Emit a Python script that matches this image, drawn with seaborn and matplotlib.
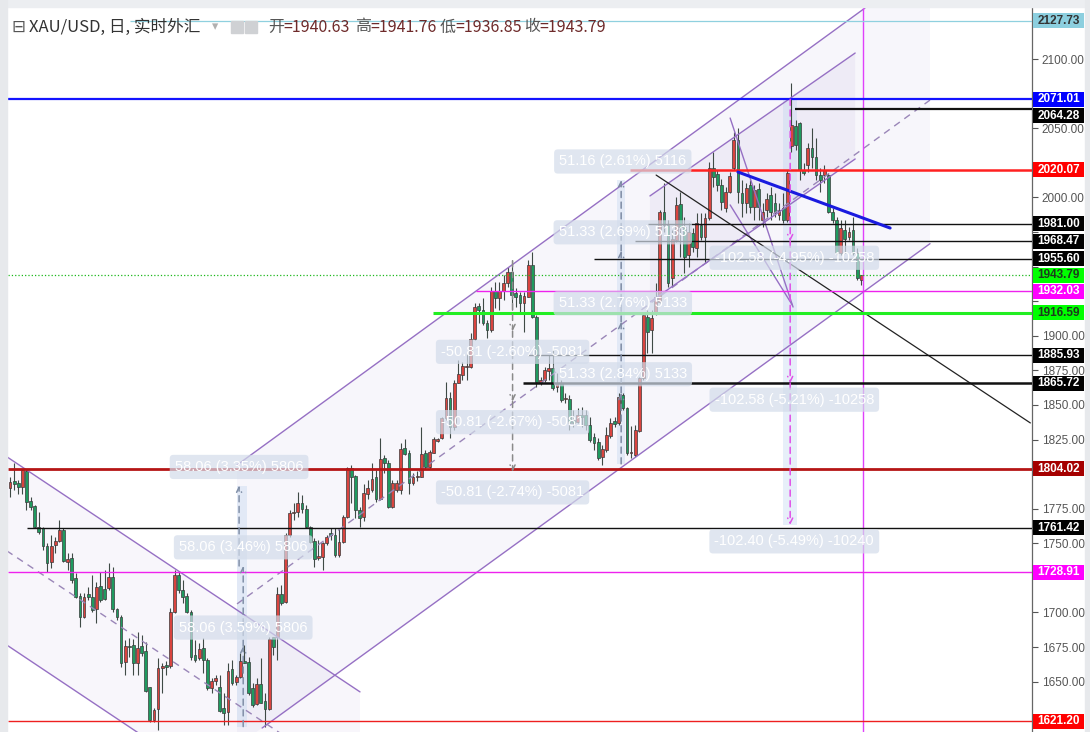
import numpy as np
import matplotlib
matplotlib.use("Agg")
import matplotlib.pyplot as plt
import matplotlib.transforms as mtransforms
from matplotlib.patches import Rectangle
import seaborn as sns

# ---------------------------------------------------------------
# XAU/USD daily candles
# ---------------------------------------------------------------
opens = [1789.8, 1795.0, 1793.4, 1791.0, 1802.5, 1780.6, 1777.0, 1761.6, 1760.8, 1748.0,
         1736.7, 1748.8, 1752.0, 1759.6, 1736.7, 1739.1, 1724.7, 1712.0, 1697.0, 1713.4,
         1711.4, 1702.3, 1719.1, 1716.7, 1717.5, 1725.9, 1702.3, 1697.0, 1664.4, 1676.0,
         1676.5, 1663.7, 1675.8, 1672.4, 1645.9, 1622.3, 1630.0, 1659.8, 1661.8, 1661.3,
         1700.0, 1727.0, 1716.3, 1712.0, 1700.6, 1669.2, 1666.8, 1674.0, 1666.0, 1645.2,
         1650.7, 1645.9, 1630.7, 1628.3, 1658.9, 1650.0, 1653.1, 1665.0, 1664.4, 1645.2,
         1633.8, 1648.1, 1636.2, 1630.0, 1682.0, 1682.5, 1713.4, 1707.8, 1756.0, 1771.7,
         1772.9, 1779.4, 1774.8, 1762.0, 1751.9, 1739.1, 1740.3, 1750.0, 1757.2, 1756.0,
         1741.5, 1751.2, 1768.8, 1804.1, 1798.6, 1774.0, 1769.0, 1786.0, 1788.5, 1798.1,
         1781.7, 1811.4, 1807.8, 1776.4, 1788.5, 1788.5, 1818.6, 1815.0, 1793.3, 1798.0,
         1798.1, 1815.5, 1805.4, 1815.5, 1824.1, 1825.8, 1840.3, 1854.8, 1834.3, 1866.1,
         1871.6, 1877.2, 1877.2, 1897.4, 1921.5, 1918.6, 1909.0, 1904.2, 1932.6, 1927.0,
         1932.6, 1937.9, 1946.3, 1930.7, 1929.5, 1923.5, 1928.3, 1951.2, 1913.8, 1866.1,
         1868.0, 1874.8, 1876.5, 1862.7, 1866.1, 1854.0, 1854.0, 1839.1, 1837.9, 1842.8,
         1842.8, 1835.5, 1826.6, 1823.5, 1812.6, 1817.4, 1827.5, 1838.4, 1836.7, 1857.2,
         1847.6, 1815.0, 1813.8, 1831.4, 1869.2, 1913.8, 1904.2, 1917.4, 1924.6, 1989.7,
         1980.1, 1941.5, 1969.2, 1995.3, 1978.9, 1958.4, 1974.0, 1963.2, 1980.1, 1971.7,
         1984.9, 2021.0, 2017.0, 2009.0, 1992.2, 2004.2, 2021.0, 2041.6, 2003.0, 1995.7,
         2009.0, 1993.3, 2005.9, 1983.7, 1990.9, 2001.8, 1996.2, 1987.3, 1992.1, 1983.7,
         2037.0, 2052.0, 2053.6, 2019.8, 2023.4, 2035.5, 2029.5, 2016.2, 2016.2, 2016.2,
         1989.7, 1983.7, 1959.6, 1976.5, 1971.6, 1976.5, 1959.6, 1940.63]
highs = [1797.7, 1808.0, 1796.0, 1804.0, 1804.0, 1783.7, 1777.7, 1772.9, 1761.6, 1750.5,
         1756.0, 1754.8, 1766.9, 1760.8, 1742.8, 1742.8, 1728.3, 1713.8, 1713.8, 1718.7,
         1727.0, 1722.3, 1729.5, 1730.7, 1735.5, 1733.1, 1703.0, 1698.2, 1680.1, 1681.3,
         1680.6, 1686.0, 1683.7, 1678.9, 1646.4, 1630.7, 1666.8, 1663.2, 1665.0, 1703.0,
         1730.7, 1729.5, 1723.5, 1713.8, 1701.8, 1680.1, 1677.7, 1681.3, 1666.8, 1652.4,
         1654.8, 1654.8, 1641.5, 1663.7, 1665.6, 1654.8, 1670.5, 1676.5, 1668.0, 1648.8,
         1652.4, 1666.8, 1641.5, 1682.5, 1682.5, 1718.7, 1719.9, 1757.2, 1774.1, 1778.9,
         1787.3, 1784.9, 1777.7, 1762.5, 1753.6, 1752.4, 1751.2, 1756.0, 1760.8, 1760.8,
         1760.8, 1770.5, 1805.4, 1806.6, 1799.1, 1776.0, 1793.0, 1796.0, 1807.8, 1803.0,
         1825.8, 1813.8, 1810.2, 1795.7, 1795.7, 1822.7, 1825.1, 1817.4, 1800.5, 1802.0,
         1834.3, 1817.4, 1817.4, 1827.0, 1825.8, 1841.5, 1866.8, 1859.6, 1868.0, 1882.5,
         1881.3, 1887.3, 1901.8, 1923.4, 1923.4, 1927.0, 1911.4, 1935.5, 1939.1, 1939.1,
         1944.0, 1950.0, 1954.8, 1934.3, 1931.9, 1931.9, 1954.8, 1960.8, 1915.0, 1870.4,
         1877.7, 1886.1, 1890.9, 1872.8, 1868.0, 1858.4, 1857.2, 1846.4, 1847.6, 1848.8,
         1846.4, 1841.5, 1829.5, 1825.9, 1821.0, 1834.3, 1840.3, 1841.5, 1858.4, 1858.4,
         1848.8, 1835.0, 1835.5, 1870.4, 1916.2, 1918.6, 1918.6, 1937.9, 1990.9, 2010.2,
         1983.7, 1976.5, 2000.6, 2004.2, 1986.1, 1981.3, 1977.7, 1988.5, 1988.5, 1988.5,
         2025.9, 2033.0, 2020.0, 2013.0, 2007.8, 2018.7, 2047.6, 2050.0, 2012.6, 2010.2,
         2012.6, 2009.0, 2010.2, 1995.7, 2003.0, 2007.8, 2003.0, 1995.7, 2003.0, 2019.8,
         2082.5, 2056.0, 2054.8, 2024.6, 2039.1, 2049.9, 2042.7, 2021.0, 2023.4, 2017.4,
         1992.1, 1986.1, 1983.7, 1983.7, 1978.9, 1986.1, 1963.2, 1943.79]
lows = [1783.7, 1788.6, 1786.0, 1786.0, 1774.0, 1774.0, 1760.8, 1757.0, 1745.2, 1729.5,
        1732.0, 1742.8, 1751.0, 1736.7, 1730.7, 1721.1, 1710.2, 1689.7, 1695.8, 1709.0,
        1700.6, 1692.2, 1707.8, 1709.0, 1716.3, 1700.6, 1694.6, 1660.8, 1654.8, 1668.0,
        1654.8, 1654.8, 1668.5, 1642.8, 1620.5, 1621.0, 1615.0, 1641.5, 1655.0, 1659.6,
        1699.4, 1713.8, 1706.6, 1699.4, 1665.6, 1664.4, 1665.6, 1656.0, 1644.0, 1641.5,
        1647.6, 1628.3, 1618.6, 1618.6, 1647.6, 1647.6, 1652.4, 1663.2, 1640.3, 1632.0,
        1633.1, 1634.3, 1617.5, 1629.5, 1669.2, 1665.6, 1705.4, 1706.6, 1754.8, 1766.9,
        1769.3, 1771.7, 1760.8, 1750.0, 1733.1, 1738.0, 1730.7, 1748.8, 1752.4, 1740.3,
        1740.3, 1750.0, 1768.0, 1778.8, 1768.0, 1762.0, 1766.0, 1781.7, 1787.3, 1780.0,
        1781.3, 1800.5, 1775.2, 1775.2, 1787.3, 1786.0, 1814.0, 1786.0, 1792.0, 1795.0,
        1797.6, 1804.0, 1804.0, 1815.0, 1823.4, 1825.1, 1839.1, 1825.8, 1831.9, 1865.6,
        1868.0, 1868.0, 1876.4, 1897.0, 1909.0, 1907.8, 1898.1, 1903.0, 1919.8, 1918.6,
        1925.8, 1935.5, 1918.6, 1921.0, 1916.2, 1903.0, 1927.8, 1912.6, 1863.2, 1864.4,
        1866.8, 1868.0, 1860.8, 1859.6, 1852.4, 1851.2, 1831.9, 1834.3, 1836.7, 1834.3,
        1831.9, 1823.5, 1817.4, 1810.2, 1806.6, 1816.2, 1825.9, 1834.3, 1835.5, 1846.4,
        1813.8, 1812.0, 1812.6, 1830.7, 1868.0, 1887.3, 1887.3, 1915.0, 1923.4, 1975.0,
        1935.5, 1935.5, 1968.0, 1957.2, 1945.2, 1950.0, 1960.8, 1957.2, 1969.2, 1952.4,
        1983.7, 2007.8, 2005.0, 1991.0, 1989.7, 2003.0, 2019.8, 1995.8, 1986.1, 1988.5,
        1988.5, 1983.7, 1983.7, 1978.9, 1986.1, 1983.7, 1986.1, 1983.7, 1981.3, 1982.5,
        2033.0, 2034.0, 2012.6, 2016.2, 2018.6, 2021.0, 2012.6, 2004.2, 2010.2, 1988.5,
        1981.3, 1958.4, 1958.4, 1959.6, 1969.2, 1958.4, 1940.3, 1936.85]
closes = [1794.6, 1792.6, 1791.0, 1803.0, 1780.0, 1776.5, 1761.6, 1758.4, 1748.0, 1736.0,
          1748.0, 1751.8, 1759.6, 1737.5, 1738.7, 1723.5, 1711.0, 1696.5, 1711.4, 1711.0,
          1701.8, 1718.7, 1709.0, 1709.5, 1725.4, 1702.3, 1697.0, 1663.7, 1675.8, 1674.8,
          1663.7, 1674.0, 1671.0, 1643.5, 1622.3, 1629.5, 1659.6, 1661.0, 1660.3, 1700.6,
          1727.0, 1716.3, 1711.4, 1700.6, 1668.0, 1665.6, 1673.4, 1665.6, 1645.2, 1650.7,
          1652.6, 1629.0, 1627.6, 1658.0, 1648.8, 1653.1, 1664.9, 1663.7, 1642.0, 1633.1,
          1648.1, 1634.8, 1630.0, 1680.6, 1675.3, 1713.4, 1706.6, 1756.0, 1771.7, 1772.9,
          1779.4, 1774.6, 1762.0, 1751.2, 1738.4, 1740.8, 1750.0, 1754.8, 1756.0, 1741.5,
          1751.2, 1768.8, 1804.2, 1798.1, 1774.0, 1768.0, 1786.6, 1789.7, 1796.2, 1781.7,
          1810.7, 1807.8, 1776.4, 1793.3, 1793.8, 1817.9, 1814.5, 1793.3, 1798.1, 1799.0,
          1814.5, 1805.4, 1816.2, 1825.1, 1825.1, 1840.3, 1854.8, 1834.3, 1866.1, 1872.3,
          1878.1, 1878.1, 1897.4, 1921.0, 1918.6, 1909.0, 1904.2, 1932.6, 1927.0, 1932.6,
          1937.9, 1946.3, 1929.5, 1927.8, 1923.5, 1928.8, 1951.2, 1913.8, 1866.8, 1868.0,
          1875.3, 1876.5, 1862.0, 1866.1, 1853.6, 1855.0, 1836.7, 1837.2, 1842.8, 1841.5,
          1835.5, 1824.7, 1822.7, 1811.4, 1817.9, 1828.3, 1837.2, 1836.2, 1856.0, 1847.6,
          1815.0, 1816.0, 1831.9, 1869.2, 1915.0, 1903.0, 1912.6, 1928.3, 1989.7, 1980.1,
          1937.9, 1970.3, 1994.6, 1978.9, 1957.2, 1975.3, 1964.4, 1981.3, 1971.7, 1984.9,
          2021.0, 2015.0, 2009.0, 1997.0, 2004.2, 2015.5, 2041.6, 2004.2, 1995.7, 2006.6,
          1993.3, 2005.4, 1993.3, 1989.7, 1998.6, 1989.7, 1989.7, 1990.9, 1983.7, 2017.4,
          2052.4, 2038.0, 2019.8, 2017.4, 2035.5, 2029.5, 2016.2, 2012.6, 2019.8, 1989.7,
          1983.7, 1959.6, 1977.7, 1969.7, 1975.3, 1959.6, 1941.5, 1943.79]

# horizontal price levels drawn on the chart (price, start bar)
level_prices = [2127.73, 2071.01, 2064.28, 2020.07, 1981.00, 1968.47, 1955.60, 1943.79,
                1932.03, 1916.59, 1885.93, 1865.72, 1804.02, 1761.42, 1728.91, 1621.20]
level_starts = [29.2, -1, 190.9, 150.8, 155.2, 152.0, 142.0, -1,
                113.3, 102.9, 126.0, 124.8, -1, 4.1, -1, -1]
# axis tags that the screen pushed down to avoid overlapping
tag_shift = [0, 0, -5.2, 0, 0, 0, 0, 0, 0, 0, 0, 0, 0, 0, 0, 0]

# price range measurements: (bar, from price, to price, label)
ranges_a = [(56.7, 1617.5, 1675.6, "58.06 (3.59%) 5806"),
            (56.7, 1675.6, 1733.6, "58.06 (3.46%) 5806"),
            (55.7, 1733.6, 1791.7, "58.06 (3.35%) 5806")]
ranges_b = [(122.2, 1954.2, 1903.4, "-50.81 (-2.60%) -5081"),
            (122.2, 1903.4, 1852.6, "-50.81 (-2.67%) -5081"),
            (122.2, 1852.6, 1801.8, "-50.81 (-2.74%) -5081")]
ranges_c = [(148.6, 1807.4, 1858.7, "51.33 (2.84%) 5133"),
            (148.6, 1858.7, 1910.0, "51.33 (2.76%) 5133"),
            (148.6, 1910.0, 1961.3, "51.33 (2.69%) 5133"),
            (148.6, 1961.3, 2012.5, "51.16 (2.61%) 5116")]
ranges_d = [(189.7, 2071.0, 1968.4, "-102.58 (-4.95%) -10258"),
            (189.7, 1968.4, 1865.8, "-102.58 (-5.21%) -10258"),
            (189.7, 1865.8, 1763.4, "-102.40 (-5.49%) -10240")]

hdr_open, hdr_high, hdr_low, hdr_close = "1940.63", "1941.76", "1936.85", "1943.79"

# ---------------------------------------------------------------
# style
# ---------------------------------------------------------------
sns.set_theme(style="white")
plt.rcParams['font.family'] = ['Liberation Sans', 'Noto Sans CJK SC', 'DejaVu Sans']

UP = '#d9443f'
DOWN = '#1f9a5f'
PURPLE = '#9670c4'

fig = plt.figure(figsize=(10.9, 7.32), dpi=100)
ax = fig.add_axes([8 / 1090, 0, 1024 / 1090, 724 / 732])
ax.set_facecolor('white')
ax.set_xlim(-0.49, 248.5)
ax.set_ylim(1613.6, 2136.95)

# ---------------------------------------------------------------
# channels (fills + lines)
# ---------------------------------------------------------------
# big ascending channel
ax.fill([55.2, 223.7, 223.7, 55.2], [1806.6, 2171.3, 1966.6, 1603.5],
        color='#7b5cc0', alpha=0.055, lw=0, zorder=0.5)
ax.plot([55.2, 207.9], [1806.6, 2136.95], color=PURPLE, lw=1, zorder=3)
ax.plot([61.3, 223.7], [1616.5, 1966.6], color=PURPLE, lw=1, zorder=3)
ax.plot([55.2, 223.7], [1706.2, 2070.4], color='#9a86b8', lw=1, ls=(0, (5, 4)), zorder=3)

# inner ascending channel
ax.fill([155.6, 205.5, 205.5, 155.6], [2001.1, 2104.4, 2027.8, 1924.4],
        color='#7b5cc0', alpha=0.07, lw=0, zorder=0.6)
ax.plot([155.6, 205.5], [2001.1, 2104.4], color=PURPLE, lw=1, zorder=3)
ax.plot([155.6, 205.5], [1924.4, 2027.8], color=PURPLE, lw=1, zorder=3)

# descending channel (left)
ax.fill([-0.8, 85.1, 85.1, -0.8], [1812.6, 1642.6, 1505.9, 1676.5],
        color='#7b5cc0', alpha=0.05, lw=0, zorder=0.5)
ax.plot([-0.8, 85.1], [1812.6, 1642.6], color=PURPLE, lw=1, zorder=3)
ax.plot([-0.8, 85.1], [1676.5, 1505.9], color=PURPLE, lw=1, zorder=3)
ax.plot([-0.8, 85.1], [1744.6, 1574.3], color='#9a86b8', lw=1, ls=(0, (5, 4)), zorder=3)

# pennant lines
ax.plot([175.1, 190.4], [2057.4, 1920.8], color=PURPLE, lw=1, zorder=3)
ax.plot([175.1, 190.2], [1994.6, 1922.3], color=PURPLE, lw=1, zorder=3)

# ---------------------------------------------------------------
# measurement bands
# ---------------------------------------------------------------
band = dict(color='#bcd3ee', alpha=0.35, lw=0, zorder=0.8)
ax.fill_between([55.1, 57.6], 1617.5, 1791.7, **band)
ax.fill_between([147.6, 149.6], 1807.4, 2012.5, **band)
ax.fill_between([188.0, 191.4], 1763.4, 2071.0, **band)

# ---------------------------------------------------------------
# candles
# ---------------------------------------------------------------
o = np.array(opens)
h = np.array(highs)
l = np.array(lows)
c = np.array(closes)
x = np.arange(len(c))
up = c >= o
col = np.where(up, UP, DOWN)
ax.vlines(x, l, h, color='#3f4a45', lw=0.8, zorder=2)
body = np.maximum(np.abs(c - o), 0.7)
ax.bar(x, body, bottom=np.minimum(o, c), width=0.68, color=col,
       edgecolor='#3a3a3a', linewidth=0.5, zorder=2.1)

# ---------------------------------------------------------------
# trend lines
# ---------------------------------------------------------------
ax.plot([157.1, 248.1], [2016.2, 1837.0], color='#222222', lw=0.9, zorder=3)
ax.plot([177.0, 214.0], [2018.4, 1977.9], color='#1a1adf', lw=2.2, zorder=3.2)
ax.axvline(207.4, color='#e040fb', lw=1, zorder=3)

# horizontal levels
lvl_style = [('#8fd0df', 0.9, '-'), ('#1414ff', 1.6, '-'), ('#111111', 1.6, '-'),
             ('#ff2020', 1.8, '-'), ('#111111', 1.0, '-'), ('#111111', 1.0, '-'),
             ('#111111', 1.0, '-'), ('#1cb81c', 0.9, ':'), ('#ee22ee', 1.0, '-'),
             ('#22ee22', 2.2, '-'), ('#111111', 1.0, '-'), ('#111111', 1.8, '-'),
             ('#b51515', 2.0, '-'), ('#111111', 1.0, '-'), ('#ee22ee', 1.0, '-'),
             ('#ee2020', 1.0, '-')]
lbl_colors = [('#8ccfdf', '#333333'), ('#0000ff', 'white'), ('#000000', 'white'),
              ('#ff0000', 'white'), ('#000000', 'white'), ('#000000', 'white'),
              ('#000000', 'white'), ('#00ff00', '#1d3b1d'), ('#ff00ff', 'white'),
              ('#00ff00', '#1d3b1d'), ('#000000', 'white'), ('#000000', 'white'),
              ('#a50000', 'white'), ('#000000', 'white'), ('#ff00ff', 'white'),
              ('#ff0000', 'white')]
for p, s, (lc, lw, ls) in zip(level_prices, level_starts, lvl_style):
    ax.hlines(p, max(s, -0.49), 248.5, color=lc, lw=lw, ls=ls, zorder=3.1)

# measurement arrows and labels
def draw_ranges(ranges, color, off, dx_label=0.0):
    for bx, p0, p1, txt in ranges:
        ax.annotate('', xy=(bx, p1), xytext=(bx, p0),
                    arrowprops=dict(arrowstyle='->', color=color, lw=1.1,
                                    ls=(0, (4, 3)), shrinkA=0, shrinkB=0,
                                    mutation_scale=9),
                    zorder=4)
        ax.text(bx + dx_label, p1 + off, txt, ha='center', va='center',
                fontsize=10.5, color='white', zorder=6,
                bbox=dict(boxstyle='round,pad=0.35,rounding_size=0.25',
                          fc='#d3dcea', ec='none', alpha=0.7))

draw_ranges(ranges_a, '#8190a8', 13.5)
draw_ranges(ranges_b, '#8a8a8a', -15.0)
draw_ranges(ranges_c, '#7d8aa3', 13.5, dx_label=0.4)
draw_ranges(ranges_d, '#e050e8', -12.0, dx_label=1.0)

# ---------------------------------------------------------------
# right price axis
# ---------------------------------------------------------------
ticks = np.arange(1625, 2126, 25)
ax.yaxis.tick_right()
ax.set_yticks(ticks)
# tick labels sitting under a level tag are hidden, as on the screen
tag_pos = [p + s for p, s in zip(level_prices, tag_shift)]
hidden = [t for t in ticks if min(abs(t - p) for p in tag_pos) < 9]
ax.yaxis.set_major_formatter(matplotlib.ticker.FuncFormatter(
    lambda v, pos: '' if any(abs(v - t) < 1e-6 for t in hidden) else f"{v:.2f}"))
ax.tick_params(axis='y', labelsize=8.5, colors='#555555', length=4, width=0.8,
               direction='out', pad=3)
ax.set_xticks([])
for sp in ['left', 'top', 'bottom']:
    ax.spines[sp].set_visible(False)
ax.spines['right'].set_color('#666666')
ax.spines['right'].set_linewidth(0.9)

# level tags: 51 x 15 px boxes on the price scale
trans = mtransforms.blended_transform_factory(ax.transAxes, ax.transData)
tag_w = 51 / 1024
tag_h = 15 / 1.3835
for p, ty, (bg, fg) in zip(level_prices, tag_pos, lbl_colors):
    ax.add_patch(Rectangle((1.001, ty - tag_h / 2), tag_w, tag_h, transform=trans,
                           fc=bg, ec='none', clip_on=False, zorder=19))
    ax.text(1.001 + tag_w / 2, ty, f"{p:.2f}", transform=trans, ha='center', va='center',
            fontsize=8.5, fontweight='bold', color=fg, zorder=20, clip_on=False)

# ---------------------------------------------------------------
# window chrome + header
# ---------------------------------------------------------------
fig.patches.append(Rectangle((0, 1 - 7 / 732), 1, 7 / 732, transform=fig.transFigure,
                             color='#eceef1', zorder=0))
fig.patches.append(Rectangle((0, 0), 7 / 1090, 1, transform=fig.transFigure,
                             color='#e7e9ec', zorder=0))
fig.patches.append(Rectangle((1085 / 1090, 0), 5 / 1090, 1, transform=fig.transFigure,
                             color='#e7e9ec', zorder=0))
for bx in (231, 245):
    fig.patches.append(Rectangle((bx / 1090, 1 - 33 / 732), 12 / 1090, 12 / 732,
                                 transform=fig.transFigure, color='#cfd1d4', zorder=5))

hy = 1 - 27 / 732
hfam = ['Noto Sans CJK SC', 'DejaVu Sans']
fig.text(11 / 1090, hy, "\u229f", fontsize=12, color='#555555', va='center',
         family=['DejaVu Sans'])
fig.text(29 / 1090, hy, "XAU/USD, 日, 实时外汇", fontsize=12, color='#333333',
         va='center', family=hfam)
fig.text(212 / 1090, hy, "\u25be", fontsize=9, color='#b0b0b0', va='center',
         family=['DejaVu Sans'])
for hx, k, v in [(268, "开", hdr_open), (355, "高", hdr_high),
                 (440, "低", hdr_low), (524, "收", hdr_close)]:
    fig.text(hx / 1090, hy, k, fontsize=11.5, color='#555555', va='center', family=hfam)
    fig.text((hx + 15) / 1090, hy, "=" + v, fontsize=11.5, color='#6e2a2a',
             va='center', family=hfam)

fig.savefig("out.png", dpi=100)
